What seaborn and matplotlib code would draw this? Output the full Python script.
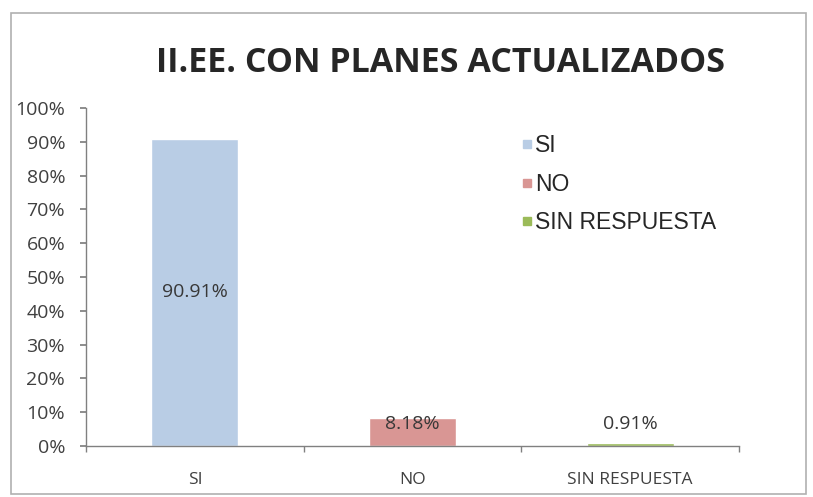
import matplotlib
matplotlib.use("Agg")
import matplotlib.pyplot as plt
import pandas as pd
import seaborn as sns
from matplotlib.patches import Rectangle
from matplotlib.lines import Line2D
from matplotlib.ticker import FixedLocator, PercentFormatter

categories = ["SI", "NO", "SIN RESPUESTA"]
values = [90.91, 8.18, 0.91]
value_labels = ["90.91%", "8.18%", "0.91%"]
colors = ["#b9cde5", "#d99694", "#9bbb59"]
title = "II.EE. CON PLANES ACTUALIZADOS"

sns.set_theme(style="white")
plt.rcParams["font.family"] = ["Open Sans", "DejaVu Sans"]

data = pd.DataFrame({"categoria": categories, "valor": values})

fig = plt.figure(figsize=(8.13, 4.97), dpi=100)
ax = fig.add_axes([86 / 813, 1 - 446 / 497, (739 - 86) / 813, (446 - 108) / 497])

sns.barplot(data=data, x="categoria", y="valor", hue="categoria", palette=colors,
            width=0.4, legend=False, ax=ax, saturation=1)

ax.set_ylim(0, 100)
ax.set_xlim(-0.5, 2.5)
ax.set_yticks(range(0, 101, 10))
ax.yaxis.set_major_formatter(PercentFormatter(decimals=0))
ax.xaxis.set_minor_locator(FixedLocator([-0.5, 0.5, 1.5, 2.5]))
ax.tick_params(axis="y", which="major", direction="out", length=4.5, color="#808080",
               left=True, labelsize=14, labelcolor="#404040", pad=10.5)
ax.tick_params(axis="x", which="major", length=0, labelsize=12.5, labelcolor="#404040", pad=19)
ax.tick_params(axis="x", which="minor", direction="out", length=4.5, color="#808080", bottom=True)
ax.set_xlabel("")
ax.set_ylabel("")
for side in ["top", "right"]:
    ax.spines[side].set_visible(False)
for side in ["left", "bottom"]:
    ax.spines[side].set_color("#808080")
    ax.spines[side].set_linewidth(1)

for i, (v, lab) in enumerate(zip(values, value_labels)):
    y = v / 2 if v > 20 else 6.5
    ax.text(i, y, lab, ha="center", va="center", fontsize=14, color="#383838")

handles = [Line2D([], [], marker="s", linestyle="none", markersize=6,
                  markerfacecolor=c, markeredgecolor=c) for c in colors]
ax.legend(handles, categories, loc="upper left", bbox_to_anchor=(0.633, 0.984),
          frameon=False, labelspacing=0.68, handletextpad=0.05, handlelength=0.6,
          prop={"family": "Liberation Sans", "size": 16.5})

fig.text(440 / 813, 1 - 63 / 497, title, ha="center", va="center",
         fontsize=24.5, fontweight="bold", family="Open Sans")

fig.patches.append(Rectangle((11 / 813, 3 / 497), (806 - 11) / 813, (484 - 3) / 497,
                             transform=fig.transFigure, fill=False,
                             edgecolor="#b0b0b0", linewidth=1.2))

fig.savefig("out.png", dpi=100)
